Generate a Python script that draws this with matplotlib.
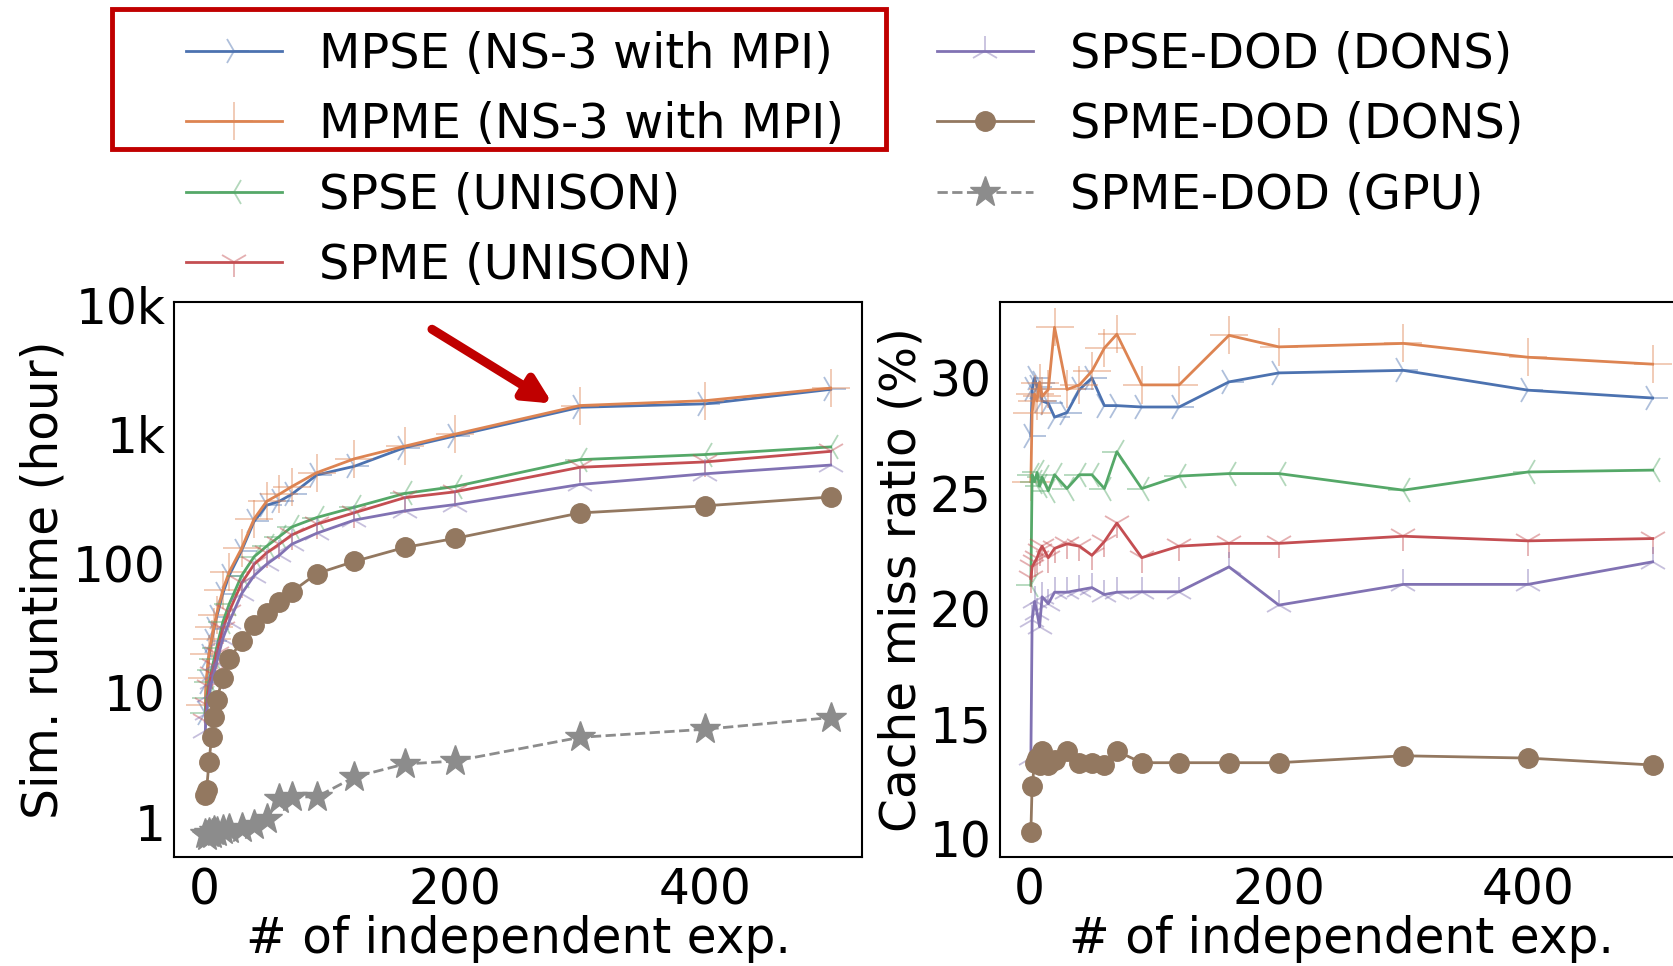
import matplotlib
matplotlib.use("Agg")
import matplotlib.pyplot as plt
import matplotlib.patches as mpatches
from matplotlib.colors import to_rgba

plt.rcParams['font.family'] = ['DejaVu Sans']

# number of independent experiments
n_exp = [1, 2, 4, 6, 8, 10, 15, 20, 30, 40, 50, 60, 70, 90, 120, 160, 200, 300, 400, 500]

# simulation runtime (hour)
rt_mpse = [7, 12, 19, 25, 31, 38, 58, 80, 125, 210, 280, 300, 340, 480, 560, 780, 960, 1600, 1700, 2200]
rt_mpme = [8, 13, 20, 26, 32, 40, 62, 85, 130, 220, 300, 340, 390, 500, 640, 800, 990, 1650, 1800, 2250]
rt_spse = [7, 9, 12, 15, 18, 22, 35, 48, 80, 112, 135, 160, 190, 225, 270, 345, 390, 630, 690, 790]
rt_spme = [6, 8, 11, 14, 16, 20, 31, 42, 70, 98, 120, 140, 165, 200, 245, 320, 355, 550, 605, 730]
rt_spse_dod = [5, 7, 9.5, 12, 14, 17, 26, 35, 58, 80, 98, 115, 140, 170, 215, 253, 283, 405, 490, 572]
rt_spme_dod = [1.6, 1.75, 2.9, 4.5, 6.5, 8.7, 13, 18, 25, 33, 41, 50, 60, 83, 103, 132, 155, 244, 277, 324]
rt_gpu = [0.8, 0.78, 0.82, 0.8, 0.85, 0.83, 0.86, 0.88, 0.9, 0.95, 1.05, 1.5, 1.56, 1.56, 2.22, 2.8, 2.95, 4.5, 5.2, 6.4]

# cache miss ratio (%)
cm_mpse = [27.5, 29.5, 30.0, 29.6, 29.8, 29.0, 28.9, 28.3, 28.5, 29.5, 30.0, 28.8, 28.8, 28.74, 28.74, 29.83, 30.22, 30.33, 29.47, 29.13]
cm_mpme = [25.5, 28.5, 29.3, 29.0, 29.8, 29.2, 29.5, 32.2, 29.5, 29.7, 30.3, 31.3, 31.9, 29.7, 29.7, 31.85, 31.35, 31.5, 30.9, 30.6]
cm_spse = [21.0, 25.8, 25.5, 25.9, 25.3, 25.7, 25.1, 25.8, 25.2, 25.8, 25.8, 25.2, 26.8, 25.2, 25.74, 25.85, 25.85, 25.13, 25.92, 26.0]
cm_spme = [21.3, 21.8, 22.0, 22.2, 22.5, 22.7, 22.2, 22.6, 22.8, 22.7, 22.3, 22.9, 23.7, 22.2, 22.7, 22.82, 22.82, 23.13, 22.93, 23.03]
cm_spse_dod = [13.5, 19.5, 20.3, 19.8, 19.2, 20.5, 20.2, 20.7, 20.7, 20.8, 20.9, 20.6, 20.7, 20.72, 20.72, 21.8, 20.14, 21.04, 21.04, 22.02]
cm_spme_dod = [10.3, 12.3, 13.3, 13.5, 13.2, 13.8, 13.2, 13.4, 13.8, 13.3, 13.3, 13.2, 13.8, 13.3, 13.3, 13.3, 13.3, 13.6, 13.5, 13.2]

labels = ['MPSE (NS-3 with MPI)', 'MPME (NS-3 with MPI)', 'SPSE (UNISON)',
          'SPME (UNISON)', 'SPSE-DOD (DONS)', 'SPME-DOD (DONS)', 'SPME-DOD (GPU)']
colors = ['#4C72B0', '#DD8452', '#55A868', '#C44E52', '#8172B3', '#937860', '#8C8C8C']
markers = ['4', '+', '3', '1', '2', 'o', '*']
msizes = [21, 27, 21, 21, 21, 14, 23]

runtime = [rt_mpse, rt_mpme, rt_spse, rt_spme, rt_spse_dod, rt_spme_dod, rt_gpu]
cache = [cm_mpse, cm_mpme, cm_spse, cm_spme, cm_spse_dod, cm_spme_dod]

FS = 35
fig = plt.figure(figsize=(16.73, 9.66), dpi=100)
ax1 = fig.add_axes([0.104, 0.1128, 0.4112, 0.5745])
ax2 = fig.add_axes([0.5976, 0.1128, 0.4088, 0.5745])


def style_of(i):
    c = colors[i]
    kw = dict(color=c, lw=2.0, marker=markers[i], markersize=msizes[i])
    if markers[i] in ('o', '*'):
        kw.update(markerfacecolor=c, markeredgecolor=c, markeredgewidth=1)
    else:
        kw.update(markeredgecolor=to_rgba(c, 0.45), markeredgewidth=1.3)
    if i == 6:
        kw.update(linestyle='--')
    return kw


handles = []
for i, ys in enumerate(runtime):
    h, = ax1.plot(n_exp, ys, label=labels[i], **style_of(i))
    handles.append(h)

for i, ys in enumerate(cache):
    ax2.plot(n_exp, ys, **style_of(i))

ax1.set_yscale('log')
ax1.set_ylim(0.535, 10400)
ax1.set_yticks([1, 10, 100, 1000, 10000])
ax1.set_yticklabels(['1', '10', '100', '1k', '10k'])
ax1.minorticks_off()
ax1.set_ylabel('Sim. runtime (hour)', fontsize=FS, labelpad=4)
ax2.set_ylabel('Cache miss ratio (%)', fontsize=FS, labelpad=3)
ax2.set_yticks([10, 15, 20, 25, 30])

for ax in (ax1, ax2):
    ax.set_xticks([0, 200, 400])
    ax.set_xlabel('# of independent exp.', fontsize=FS, labelpad=0)
    ax.tick_params(labelsize=FS, length=0, pad=7)
    ax.tick_params(axis='y', pad=6)
    for s in ax.spines.values():
        s.set_color('black')
        s.set_linewidth(1.5)

fig.legend(handles=handles, loc='upper left', bbox_to_anchor=(0.0855, 1.013),
           ncol=2, frameon=False, fontsize=34.5, handlelength=2.0,
           handletextpad=0.77, columnspacing=1.95, labelspacing=0.49)

# red highlight box around the MPI entries
fig.patches.append(mpatches.Rectangle((112 / 1673, 1 - 149 / 966), 774 / 1673, 140 / 966,
                                      transform=fig.transFigure, fill=False,
                                      edgecolor='#C00000', linewidth=3.5))

ax1.annotate('', xy=(278, 1710), xytext=(0.375, 0.951), textcoords='axes fraction',
             arrowprops=dict(arrowstyle='-|>', color='#C00000', lw=6.5, mutation_scale=40,
                             shrinkA=0, shrinkB=0))

fig.savefig('out.png', dpi=100)
